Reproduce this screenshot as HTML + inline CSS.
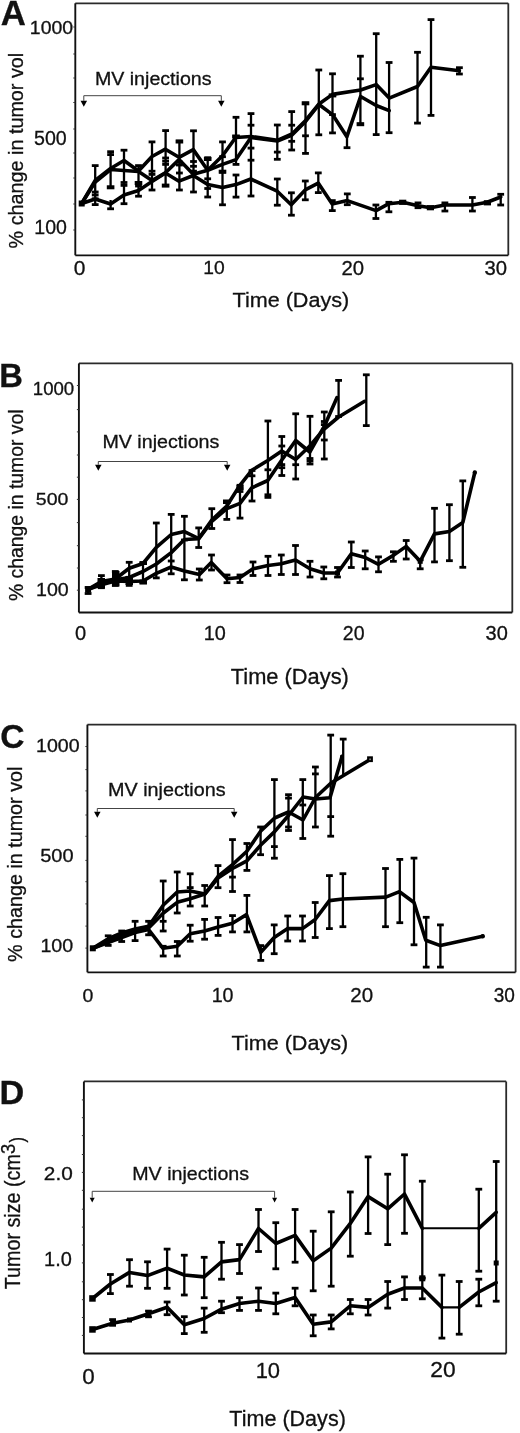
<!DOCTYPE html><html><head><meta charset="utf-8"><style>html,body{margin:0;padding:0;background:#fff;}svg{display:block;will-change:transform;}</style></head><body>
<svg width="520" height="1433" viewBox="0 0 520 1433" font-family='"Liberation Sans", sans-serif'>
<rect width="520" height="1433" fill="#fff"/>
<line x1="75.3" y1="3.3" x2="508.3" y2="3.3" stroke="#2a2a2a" stroke-width="1.8"/>
<line x1="508.3" y1="3.3" x2="508.3" y2="255.3" stroke="#2a2a2a" stroke-width="1.8"/>
<line x1="75.3" y1="3.3" x2="75.3" y2="255.3" stroke="#111" stroke-width="1.9"/>
<line x1="75.3" y1="255.3" x2="508.3" y2="255.3" stroke="#111" stroke-width="1.8"/>
<line x1="73.3" y1="27" x2="75.3" y2="27" stroke="#333" stroke-width="1"/>
<line x1="73.3" y1="54" x2="75.3" y2="54" stroke="#333" stroke-width="1"/>
<line x1="73.3" y1="78" x2="75.3" y2="78" stroke="#333" stroke-width="1"/>
<line x1="73.3" y1="102.5" x2="75.3" y2="102.5" stroke="#333" stroke-width="1"/>
<line x1="73.3" y1="129" x2="75.3" y2="129" stroke="#333" stroke-width="1"/>
<line x1="73.3" y1="153" x2="75.3" y2="153" stroke="#333" stroke-width="1"/>
<line x1="73.3" y1="178" x2="75.3" y2="178" stroke="#333" stroke-width="1"/>
<line x1="73.3" y1="204" x2="75.3" y2="204" stroke="#333" stroke-width="1"/>
<line x1="73.3" y1="230" x2="75.3" y2="230" stroke="#333" stroke-width="1"/>
<text transform="translate(0.63,24.80) scale(1.0004,1)" font-size="34.76" font-weight="bold" fill="#111" stroke="#111" stroke-width="0.3">A</text>
<text transform="translate(29.84,34.00) scale(1.0825,1)" font-size="17.95" font-weight="normal" fill="#111" stroke="#111" stroke-width="0.3">1000</text>
<text transform="translate(34.02,144.50) scale(1.0060,1)" font-size="19.51" font-weight="normal" fill="#111" stroke="#111" stroke-width="0.3">500</text>
<text transform="translate(34.33,234.20) scale(1.0096,1)" font-size="19.36" font-weight="normal" fill="#111" stroke="#111" stroke-width="0.3">100</text>
<text transform="translate(73.66,274.50) scale(1.0737,1)" font-size="19.51" font-weight="normal" fill="#111" stroke="#111" stroke-width="0.3">0</text>
<text transform="translate(203.36,274.40) scale(1.0013,1)" font-size="19.22" font-weight="normal" fill="#111" stroke="#111" stroke-width="0.3">10</text>
<text transform="translate(341.48,274.60) scale(1.0207,1)" font-size="19.93" font-weight="normal" fill="#111" stroke="#111" stroke-width="0.3">20</text>
<text transform="translate(484.54,274.50) scale(1.0327,1)" font-size="19.65" font-weight="normal" fill="#111" stroke="#111" stroke-width="0.3">30</text>
<text transform="translate(232.51,307.00) scale(1.0244,1)" font-size="21.09" font-weight="normal" fill="#111" stroke="#111" stroke-width="0.3">Time (Days)</text>
<text transform="translate(94.88,84.60) scale(1.0467,1)" font-size="18.76" font-weight="normal" fill="#111" stroke="#111" stroke-width="0.3">MV injections</text>
<text transform="translate(23.00,248.39) rotate(-90) scale(0.9895,1)" font-size="20.00" fill="#111" stroke="#111" stroke-width="0.3">% change in tumor vol</text>
<polyline points="83.8,100.8 83.8,95.7 221.3,95.7 221.3,100.8" fill="none" stroke="#444" stroke-width="1"/>
<polygon points="80.55,100.8 87.05,100.8 83.8,106.8" fill="#000"/>
<polygon points="218.05,100.8 224.55,100.8 221.3,106.8" fill="#000"/>
<line x1="95.2" y1="165.6" x2="95.2" y2="204.6" stroke="#000" stroke-width="2.3"/>
<line x1="91.8" y1="165.6" x2="98.6" y2="165.6" stroke="#000" stroke-width="2.8"/>
<line x1="91.8" y1="192.0" x2="98.6" y2="192.0" stroke="#000" stroke-width="2.8"/>
<line x1="91.8" y1="195.0" x2="98.6" y2="195.0" stroke="#000" stroke-width="2.8"/>
<line x1="91.8" y1="198.8" x2="98.6" y2="198.8" stroke="#000" stroke-width="2.8"/>
<line x1="91.8" y1="204.6" x2="98.6" y2="204.6" stroke="#000" stroke-width="2.8"/>
<line x1="110.6" y1="151.7" x2="110.6" y2="187.3" stroke="#000" stroke-width="2.3"/>
<line x1="107.2" y1="151.7" x2="114.0" y2="151.7" stroke="#000" stroke-width="2.8"/>
<line x1="107.2" y1="154.6" x2="114.0" y2="154.6" stroke="#000" stroke-width="2.8"/>
<line x1="107.2" y1="187.3" x2="114.0" y2="187.3" stroke="#000" stroke-width="2.8"/>
<line x1="110.6" y1="200.0" x2="110.6" y2="208.8" stroke="#000" stroke-width="2.3"/>
<line x1="107.2" y1="208.8" x2="114.0" y2="208.8" stroke="#000" stroke-width="2.8"/>
<line x1="124.0" y1="150.2" x2="124.0" y2="203.7" stroke="#000" stroke-width="2.3"/>
<line x1="120.6" y1="150.2" x2="127.4" y2="150.2" stroke="#000" stroke-width="2.8"/>
<line x1="120.6" y1="182.5" x2="127.4" y2="182.5" stroke="#000" stroke-width="2.8"/>
<line x1="120.6" y1="185.4" x2="127.4" y2="185.4" stroke="#000" stroke-width="2.8"/>
<line x1="120.6" y1="203.7" x2="127.4" y2="203.7" stroke="#000" stroke-width="2.8"/>
<line x1="138.5" y1="165.6" x2="138.5" y2="196.2" stroke="#000" stroke-width="2.3"/>
<line x1="135.1" y1="165.6" x2="141.9" y2="165.6" stroke="#000" stroke-width="2.8"/>
<line x1="135.1" y1="183.0" x2="141.9" y2="183.0" stroke="#000" stroke-width="2.8"/>
<line x1="135.1" y1="186.0" x2="141.9" y2="186.0" stroke="#000" stroke-width="2.8"/>
<line x1="135.1" y1="196.2" x2="141.9" y2="196.2" stroke="#000" stroke-width="2.8"/>
<line x1="152.0" y1="141.9" x2="152.0" y2="190.0" stroke="#000" stroke-width="2.3"/>
<line x1="148.6" y1="141.9" x2="155.4" y2="141.9" stroke="#000" stroke-width="2.8"/>
<line x1="148.6" y1="171.2" x2="155.4" y2="171.2" stroke="#000" stroke-width="2.8"/>
<line x1="148.6" y1="174.4" x2="155.4" y2="174.4" stroke="#000" stroke-width="2.8"/>
<line x1="148.6" y1="190.0" x2="155.4" y2="190.0" stroke="#000" stroke-width="2.8"/>
<line x1="165.6" y1="130.6" x2="165.6" y2="185.6" stroke="#000" stroke-width="2.3"/>
<line x1="162.2" y1="130.6" x2="169.0" y2="130.6" stroke="#000" stroke-width="2.8"/>
<line x1="162.2" y1="158.0" x2="169.0" y2="158.0" stroke="#000" stroke-width="2.8"/>
<line x1="162.2" y1="161.2" x2="169.0" y2="161.2" stroke="#000" stroke-width="2.8"/>
<line x1="162.2" y1="164.4" x2="169.0" y2="164.4" stroke="#000" stroke-width="2.8"/>
<line x1="162.2" y1="185.6" x2="169.0" y2="185.6" stroke="#000" stroke-width="2.8"/>
<line x1="179.4" y1="141.2" x2="179.4" y2="190.0" stroke="#000" stroke-width="2.3"/>
<line x1="176.0" y1="141.2" x2="182.8" y2="141.2" stroke="#000" stroke-width="2.8"/>
<line x1="176.0" y1="162.0" x2="182.8" y2="162.0" stroke="#000" stroke-width="2.8"/>
<line x1="176.0" y1="165.0" x2="182.8" y2="165.0" stroke="#000" stroke-width="2.8"/>
<line x1="176.0" y1="173.0" x2="182.8" y2="173.0" stroke="#000" stroke-width="2.8"/>
<line x1="176.0" y1="190.0" x2="182.8" y2="190.0" stroke="#000" stroke-width="2.8"/>
<line x1="193.5" y1="130.8" x2="193.5" y2="192.0" stroke="#000" stroke-width="2.3"/>
<line x1="190.1" y1="130.8" x2="196.9" y2="130.8" stroke="#000" stroke-width="2.8"/>
<line x1="190.1" y1="161.5" x2="196.9" y2="161.5" stroke="#000" stroke-width="2.8"/>
<line x1="190.1" y1="166.3" x2="196.9" y2="166.3" stroke="#000" stroke-width="2.8"/>
<line x1="190.1" y1="171.2" x2="196.9" y2="171.2" stroke="#000" stroke-width="2.8"/>
<line x1="190.1" y1="192.0" x2="196.9" y2="192.0" stroke="#000" stroke-width="2.8"/>
<line x1="207.7" y1="157.7" x2="207.7" y2="197.0" stroke="#000" stroke-width="2.3"/>
<line x1="204.3" y1="157.7" x2="211.1" y2="157.7" stroke="#000" stroke-width="2.8"/>
<line x1="204.3" y1="178.8" x2="211.1" y2="178.8" stroke="#000" stroke-width="2.8"/>
<line x1="204.3" y1="188.5" x2="211.1" y2="188.5" stroke="#000" stroke-width="2.8"/>
<line x1="204.3" y1="197.0" x2="211.1" y2="197.0" stroke="#000" stroke-width="2.8"/>
<line x1="222.5" y1="141.9" x2="222.5" y2="204.8" stroke="#000" stroke-width="2.3"/>
<line x1="219.1" y1="141.9" x2="225.9" y2="141.9" stroke="#000" stroke-width="2.8"/>
<line x1="219.1" y1="156.7" x2="225.9" y2="156.7" stroke="#000" stroke-width="2.8"/>
<line x1="219.1" y1="172.1" x2="225.9" y2="172.1" stroke="#000" stroke-width="2.8"/>
<line x1="219.1" y1="204.8" x2="225.9" y2="204.8" stroke="#000" stroke-width="2.8"/>
<line x1="236.0" y1="117.3" x2="236.0" y2="164.4" stroke="#000" stroke-width="2.3"/>
<line x1="232.6" y1="117.3" x2="239.4" y2="117.3" stroke="#000" stroke-width="2.8"/>
<line x1="232.6" y1="136.5" x2="239.4" y2="136.5" stroke="#000" stroke-width="2.8"/>
<line x1="232.6" y1="164.4" x2="239.4" y2="164.4" stroke="#000" stroke-width="2.8"/>
<line x1="236.0" y1="175.0" x2="236.0" y2="197.1" stroke="#000" stroke-width="2.3"/>
<line x1="232.6" y1="175.0" x2="239.4" y2="175.0" stroke="#000" stroke-width="2.8"/>
<line x1="232.6" y1="197.1" x2="239.4" y2="197.1" stroke="#000" stroke-width="2.8"/>
<line x1="251.0" y1="113.6" x2="251.0" y2="196.0" stroke="#000" stroke-width="2.3"/>
<line x1="247.6" y1="113.6" x2="254.4" y2="113.6" stroke="#000" stroke-width="2.8"/>
<line x1="247.6" y1="125.2" x2="254.4" y2="125.2" stroke="#000" stroke-width="2.8"/>
<line x1="247.6" y1="148.1" x2="254.4" y2="148.1" stroke="#000" stroke-width="2.8"/>
<line x1="247.6" y1="160.2" x2="254.4" y2="160.2" stroke="#000" stroke-width="2.8"/>
<line x1="247.6" y1="196.0" x2="254.4" y2="196.0" stroke="#000" stroke-width="2.8"/>
<line x1="277.3" y1="125.0" x2="277.3" y2="159.3" stroke="#000" stroke-width="2.3"/>
<line x1="273.9" y1="125.0" x2="280.7" y2="125.0" stroke="#000" stroke-width="2.8"/>
<line x1="273.9" y1="152.1" x2="280.7" y2="152.1" stroke="#000" stroke-width="2.8"/>
<line x1="273.9" y1="159.3" x2="280.7" y2="159.3" stroke="#000" stroke-width="2.8"/>
<line x1="277.3" y1="179.0" x2="277.3" y2="205.2" stroke="#000" stroke-width="2.3"/>
<line x1="273.9" y1="179.0" x2="280.7" y2="179.0" stroke="#000" stroke-width="2.8"/>
<line x1="273.9" y1="205.2" x2="280.7" y2="205.2" stroke="#000" stroke-width="2.8"/>
<line x1="291.7" y1="111.6" x2="291.7" y2="150.0" stroke="#000" stroke-width="2.3"/>
<line x1="288.3" y1="111.6" x2="295.1" y2="111.6" stroke="#000" stroke-width="2.8"/>
<line x1="288.3" y1="125.2" x2="295.1" y2="125.2" stroke="#000" stroke-width="2.8"/>
<line x1="288.3" y1="141.3" x2="295.1" y2="141.3" stroke="#000" stroke-width="2.8"/>
<line x1="288.3" y1="150.0" x2="295.1" y2="150.0" stroke="#000" stroke-width="2.8"/>
<line x1="291.4" y1="192.8" x2="291.4" y2="215.2" stroke="#000" stroke-width="2.3"/>
<line x1="288.0" y1="192.8" x2="294.8" y2="192.8" stroke="#000" stroke-width="2.8"/>
<line x1="288.0" y1="215.2" x2="294.8" y2="215.2" stroke="#000" stroke-width="2.8"/>
<line x1="305.5" y1="103.1" x2="305.5" y2="153.4" stroke="#000" stroke-width="2.3"/>
<line x1="302.1" y1="103.1" x2="308.9" y2="103.1" stroke="#000" stroke-width="2.8"/>
<line x1="302.1" y1="135.8" x2="308.9" y2="135.8" stroke="#000" stroke-width="2.8"/>
<line x1="302.1" y1="153.4" x2="308.9" y2="153.4" stroke="#000" stroke-width="2.8"/>
<line x1="305.3" y1="181.0" x2="305.3" y2="199.8" stroke="#000" stroke-width="2.3"/>
<line x1="301.9" y1="181.0" x2="308.7" y2="181.0" stroke="#000" stroke-width="2.8"/>
<line x1="301.9" y1="199.8" x2="308.7" y2="199.8" stroke="#000" stroke-width="2.8"/>
<line x1="318.8" y1="70.0" x2="318.8" y2="134.8" stroke="#000" stroke-width="2.3"/>
<line x1="315.4" y1="70.0" x2="322.2" y2="70.0" stroke="#000" stroke-width="2.8"/>
<line x1="315.4" y1="134.8" x2="322.2" y2="134.8" stroke="#000" stroke-width="2.8"/>
<line x1="318.3" y1="172.9" x2="318.3" y2="192.6" stroke="#000" stroke-width="2.3"/>
<line x1="314.9" y1="172.9" x2="321.7" y2="172.9" stroke="#000" stroke-width="2.8"/>
<line x1="314.9" y1="192.6" x2="321.7" y2="192.6" stroke="#000" stroke-width="2.8"/>
<line x1="332.5" y1="73.8" x2="332.5" y2="132.9" stroke="#000" stroke-width="2.3"/>
<line x1="329.1" y1="73.8" x2="335.9" y2="73.8" stroke="#000" stroke-width="2.8"/>
<line x1="329.1" y1="95.4" x2="335.9" y2="95.4" stroke="#000" stroke-width="2.8"/>
<line x1="329.1" y1="114.6" x2="335.9" y2="114.6" stroke="#000" stroke-width="2.8"/>
<line x1="329.1" y1="132.9" x2="335.9" y2="132.9" stroke="#000" stroke-width="2.8"/>
<line x1="332.3" y1="200.6" x2="332.3" y2="210.6" stroke="#000" stroke-width="2.3"/>
<line x1="328.9" y1="200.6" x2="335.7" y2="200.6" stroke="#000" stroke-width="2.8"/>
<line x1="328.9" y1="210.6" x2="335.7" y2="210.6" stroke="#000" stroke-width="2.8"/>
<line x1="347.0" y1="136.7" x2="347.0" y2="147.7" stroke="#000" stroke-width="2.3"/>
<line x1="343.6" y1="147.7" x2="350.4" y2="147.7" stroke="#000" stroke-width="2.8"/>
<line x1="347.3" y1="193.9" x2="347.3" y2="204.7" stroke="#000" stroke-width="2.3"/>
<line x1="343.9" y1="193.9" x2="350.7" y2="193.9" stroke="#000" stroke-width="2.8"/>
<line x1="343.9" y1="204.7" x2="350.7" y2="204.7" stroke="#000" stroke-width="2.8"/>
<line x1="360.4" y1="56.2" x2="360.4" y2="124.2" stroke="#000" stroke-width="2.3"/>
<line x1="357.0" y1="56.2" x2="363.8" y2="56.2" stroke="#000" stroke-width="2.8"/>
<line x1="357.0" y1="78.8" x2="363.8" y2="78.8" stroke="#000" stroke-width="2.8"/>
<line x1="357.0" y1="124.2" x2="363.8" y2="124.2" stroke="#000" stroke-width="2.8"/>
<line x1="376.2" y1="33.7" x2="376.2" y2="134.6" stroke="#000" stroke-width="2.3"/>
<line x1="372.8" y1="33.7" x2="379.6" y2="33.7" stroke="#000" stroke-width="2.8"/>
<line x1="372.8" y1="134.6" x2="379.6" y2="134.6" stroke="#000" stroke-width="2.8"/>
<line x1="389.1" y1="62.5" x2="389.1" y2="132.7" stroke="#000" stroke-width="2.3"/>
<line x1="385.7" y1="62.5" x2="392.5" y2="62.5" stroke="#000" stroke-width="2.8"/>
<line x1="385.7" y1="132.7" x2="392.5" y2="132.7" stroke="#000" stroke-width="2.8"/>
<line x1="417.5" y1="52.3" x2="417.5" y2="123.1" stroke="#000" stroke-width="2.3"/>
<line x1="414.1" y1="52.3" x2="420.9" y2="52.3" stroke="#000" stroke-width="2.8"/>
<line x1="414.1" y1="123.1" x2="420.9" y2="123.1" stroke="#000" stroke-width="2.8"/>
<line x1="431.0" y1="19.6" x2="431.0" y2="115.4" stroke="#000" stroke-width="2.3"/>
<line x1="427.6" y1="19.6" x2="434.4" y2="19.6" stroke="#000" stroke-width="2.8"/>
<line x1="427.6" y1="115.4" x2="434.4" y2="115.4" stroke="#000" stroke-width="2.8"/>
<line x1="459.4" y1="67.7" x2="459.4" y2="74.0" stroke="#000" stroke-width="2.3"/>
<line x1="456.0" y1="67.7" x2="462.8" y2="67.7" stroke="#000" stroke-width="2.8"/>
<line x1="456.0" y1="74.0" x2="462.8" y2="74.0" stroke="#000" stroke-width="2.8"/>
<line x1="375.9" y1="205.0" x2="375.9" y2="218.5" stroke="#000" stroke-width="2.3"/>
<line x1="372.5" y1="205.0" x2="379.3" y2="205.0" stroke="#000" stroke-width="2.8"/>
<line x1="372.5" y1="218.5" x2="379.3" y2="218.5" stroke="#000" stroke-width="2.8"/>
<line x1="388.9" y1="202.3" x2="388.9" y2="211.8" stroke="#000" stroke-width="2.3"/>
<line x1="385.5" y1="202.3" x2="392.3" y2="202.3" stroke="#000" stroke-width="2.8"/>
<line x1="385.5" y1="211.8" x2="392.3" y2="211.8" stroke="#000" stroke-width="2.8"/>
<line x1="418.0" y1="202.9" x2="418.0" y2="207.7" stroke="#000" stroke-width="2.3"/>
<line x1="414.6" y1="202.9" x2="421.4" y2="202.9" stroke="#000" stroke-width="2.8"/>
<line x1="414.6" y1="207.7" x2="421.4" y2="207.7" stroke="#000" stroke-width="2.8"/>
<line x1="444.9" y1="202.9" x2="444.9" y2="211.0" stroke="#000" stroke-width="2.3"/>
<line x1="441.5" y1="202.9" x2="448.3" y2="202.9" stroke="#000" stroke-width="2.8"/>
<line x1="441.5" y1="211.0" x2="448.3" y2="211.0" stroke="#000" stroke-width="2.8"/>
<line x1="472.4" y1="197.5" x2="472.4" y2="211.0" stroke="#000" stroke-width="2.3"/>
<line x1="469.0" y1="197.5" x2="475.8" y2="197.5" stroke="#000" stroke-width="2.8"/>
<line x1="469.0" y1="211.0" x2="475.8" y2="211.0" stroke="#000" stroke-width="2.8"/>
<line x1="500.7" y1="194.3" x2="500.7" y2="205.0" stroke="#000" stroke-width="2.3"/>
<line x1="497.3" y1="194.3" x2="504.1" y2="194.3" stroke="#000" stroke-width="2.8"/>
<line x1="497.3" y1="205.0" x2="504.1" y2="205.0" stroke="#000" stroke-width="2.8"/>
<polyline points="81.7,203.5 95.2,180.5 110.6,168.5 124.0,160.5 138.5,171.0 152.0,156.5 165.4,149.2 179.0,157.3 193.3,149.6 207.7,170.2 222.5,155.8 235.7,137.5 251.0,136.5 277.3,140.3 292.0,134.0 305.6,120.4 319.0,104.0 332.5,94.4 360.6,90.0 376.2,84.6 389.2,98.1 417.5,86.5 431.0,67.3 459.4,70.8" fill="none" stroke="#000" stroke-width="3.6" stroke-linejoin="round" stroke-linecap="round"/>
<polyline points="81.7,203.5 95.2,182.0 110.6,169.5 124.0,170.5 138.5,171.5 152.0,180.6 165.4,172.7 179.0,159.6 193.3,174.2 207.7,170.2 222.5,164.4 236.0,159.6 251.0,137.5 277.3,141.0 292.0,135.0 305.6,121.5 319.0,104.5 332.5,114.6 346.9,136.7 360.6,96.5 376.2,105.5 389.2,110.6" fill="none" stroke="#000" stroke-width="3.6" stroke-linejoin="round" stroke-linecap="round"/>
<polyline points="81.7,203.5 95.2,199.0 110.6,204.0 124.0,195.0 138.5,190.5 152.0,181.5 165.4,173.0 179.0,181.2 193.3,175.5 207.7,184.6 222.5,187.5 236.0,184.6 250.8,179.0 277.2,191.2 291.2,204.7 305.2,189.9 318.2,183.1 332.2,203.9 347.3,200.6 376.1,210.6 388.9,203.7 402.9,202.3 418.0,205.8 430.6,207.7 444.9,205.0 472.4,205.0 487.2,202.3 500.7,197.0" fill="none" stroke="#000" stroke-width="3.6" stroke-linejoin="round" stroke-linecap="round"/>
<rect x="78.7" y="200.5" width="6" height="6" fill="#000"/>
<rect x="399.1" y="199.7" width="7.2" height="5.2" fill="#000"/>
<rect x="426.8" y="205.1" width="7.2" height="5.2" fill="#000"/>
<rect x="483.8" y="200.2" width="7.2" height="5.2" fill="#000"/>
<rect x="106.8" y="185.3" width="7.6" height="4" fill="#000"/>
<rect x="134.7" y="181.0" width="7.6" height="4" fill="#000"/>
<rect x="161.8" y="183.6" width="7.6" height="4" fill="#000"/>
<rect x="175.6" y="139.5" width="7.6" height="4" fill="#000"/>
<rect x="203.9" y="157.0" width="7.6" height="4" fill="#000"/>
<rect x="218.7" y="169.7" width="7.6" height="4" fill="#000"/>
<rect x="232.2" y="134.5" width="7.6" height="4" fill="#000"/>
<rect x="301.7" y="101.3" width="7.6" height="4" fill="#000"/>
<rect x="328.7" y="93.4" width="7.6" height="4" fill="#000"/>
<rect x="356.6" y="122.2" width="7.6" height="4" fill="#000"/>
<line x1="78.9" y1="363.4" x2="512.3" y2="363.4" stroke="#2a2a2a" stroke-width="1.8"/>
<line x1="512.3" y1="363.4" x2="512.3" y2="612.5" stroke="#2a2a2a" stroke-width="1.8"/>
<line x1="78.9" y1="363.4" x2="78.9" y2="612.5" stroke="#111" stroke-width="1.9"/>
<line x1="78.9" y1="612.5" x2="512.3" y2="612.5" stroke="#111" stroke-width="1.8"/>
<line x1="76.9" y1="385.5" x2="78.9" y2="385.5" stroke="#333" stroke-width="1"/>
<line x1="76.9" y1="409.6" x2="78.9" y2="409.6" stroke="#333" stroke-width="1"/>
<line x1="76.9" y1="431.9" x2="78.9" y2="431.9" stroke="#333" stroke-width="1"/>
<line x1="76.9" y1="455" x2="78.9" y2="455" stroke="#333" stroke-width="1"/>
<line x1="76.9" y1="477.2" x2="78.9" y2="477.2" stroke="#333" stroke-width="1"/>
<line x1="76.9" y1="499.4" x2="78.9" y2="499.4" stroke="#333" stroke-width="1"/>
<line x1="76.9" y1="522.6" x2="78.9" y2="522.6" stroke="#333" stroke-width="1"/>
<line x1="76.9" y1="545.7" x2="78.9" y2="545.7" stroke="#333" stroke-width="1"/>
<line x1="76.9" y1="568" x2="78.9" y2="568" stroke="#333" stroke-width="1"/>
<line x1="76.9" y1="590.2" x2="78.9" y2="590.2" stroke="#333" stroke-width="1"/>
<text transform="translate(-0.71,386.90) scale(0.9974,1)" font-size="32.87" font-weight="bold" fill="#111" stroke="#111" stroke-width="0.3">B</text>
<text transform="translate(32.80,395.40) scale(1.0627,1)" font-size="17.53" font-weight="normal" fill="#111" stroke="#111" stroke-width="0.3">1000</text>
<text transform="translate(35.82,505.10) scale(1.1251,1)" font-size="17.39" font-weight="normal" fill="#111" stroke="#111" stroke-width="0.3">500</text>
<text transform="translate(36.03,596.20) scale(1.0927,1)" font-size="17.95" font-weight="normal" fill="#111" stroke="#111" stroke-width="0.3">100</text>
<text transform="translate(75.00,640.40) scale(1.0017,1)" font-size="20.07" font-weight="normal" fill="#111" stroke="#111" stroke-width="0.3">0</text>
<text transform="translate(203.71,640.40) scale(0.9890,1)" font-size="20.07" font-weight="normal" fill="#111" stroke="#111" stroke-width="0.3">10</text>
<text transform="translate(342.82,640.40) scale(0.9746,1)" font-size="20.07" font-weight="normal" fill="#111" stroke="#111" stroke-width="0.3">20</text>
<text transform="translate(485.55,640.40) scale(0.9965,1)" font-size="20.07" font-weight="normal" fill="#111" stroke="#111" stroke-width="0.3">30</text>
<text transform="translate(230.76,683.75) scale(1.0011,1)" font-size="21.82" font-weight="normal" fill="#111" stroke="#111" stroke-width="0.3">Time (Days)</text>
<text transform="translate(102.38,448.30) scale(1.0494,1)" font-size="18.76" font-weight="normal" fill="#111" stroke="#111" stroke-width="0.3">MV injections</text>
<text transform="translate(23.00,600.98) rotate(-90) scale(0.9885,1)" font-size="19.59" fill="#111" stroke="#111" stroke-width="0.3">% change in tumor vol</text>
<polyline points="98.3,464.7 98.3,461.5 227.2,461.5 227.2,464.7" fill="none" stroke="#444" stroke-width="1"/>
<polygon points="95.05,464.7 101.55,464.7 98.3,470.7" fill="#000"/>
<polygon points="223.95,464.7 230.45,464.7 227.2,470.7" fill="#000"/>
<line x1="88.1" y1="587.5" x2="88.1" y2="593.5" stroke="#000" stroke-width="2.3"/>
<line x1="84.7" y1="587.5" x2="91.5" y2="587.5" stroke="#000" stroke-width="2.8"/>
<line x1="84.7" y1="593.5" x2="91.5" y2="593.5" stroke="#000" stroke-width="2.8"/>
<line x1="101.4" y1="575.6" x2="101.4" y2="587.7" stroke="#000" stroke-width="2.3"/>
<line x1="98.0" y1="575.6" x2="104.8" y2="575.6" stroke="#000" stroke-width="2.8"/>
<line x1="98.0" y1="587.7" x2="104.8" y2="587.7" stroke="#000" stroke-width="2.8"/>
<line x1="115.3" y1="571.5" x2="115.3" y2="585.4" stroke="#000" stroke-width="2.3"/>
<line x1="111.9" y1="571.5" x2="118.7" y2="571.5" stroke="#000" stroke-width="2.8"/>
<line x1="111.9" y1="585.4" x2="118.7" y2="585.4" stroke="#000" stroke-width="2.8"/>
<line x1="129.2" y1="562.3" x2="129.2" y2="585.4" stroke="#000" stroke-width="2.3"/>
<line x1="125.8" y1="562.3" x2="132.6" y2="562.3" stroke="#000" stroke-width="2.8"/>
<line x1="125.8" y1="577.3" x2="132.6" y2="577.3" stroke="#000" stroke-width="2.8"/>
<line x1="125.8" y1="585.4" x2="132.6" y2="585.4" stroke="#000" stroke-width="2.8"/>
<line x1="143.0" y1="562.5" x2="143.0" y2="582.7" stroke="#000" stroke-width="2.3"/>
<line x1="139.6" y1="562.5" x2="146.4" y2="562.5" stroke="#000" stroke-width="2.8"/>
<line x1="139.6" y1="582.7" x2="146.4" y2="582.7" stroke="#000" stroke-width="2.8"/>
<line x1="156.3" y1="523.0" x2="156.3" y2="577.9" stroke="#000" stroke-width="2.3"/>
<line x1="152.9" y1="523.0" x2="159.7" y2="523.0" stroke="#000" stroke-width="2.8"/>
<line x1="152.9" y1="577.9" x2="159.7" y2="577.9" stroke="#000" stroke-width="2.8"/>
<line x1="171.2" y1="514.4" x2="171.2" y2="573.8" stroke="#000" stroke-width="2.3"/>
<line x1="167.8" y1="514.4" x2="174.6" y2="514.4" stroke="#000" stroke-width="2.8"/>
<line x1="167.8" y1="561.0" x2="174.6" y2="561.0" stroke="#000" stroke-width="2.8"/>
<line x1="167.8" y1="573.8" x2="174.6" y2="573.8" stroke="#000" stroke-width="2.8"/>
<line x1="184.4" y1="516.3" x2="184.4" y2="579.8" stroke="#000" stroke-width="2.3"/>
<line x1="181.0" y1="516.3" x2="187.8" y2="516.3" stroke="#000" stroke-width="2.8"/>
<line x1="181.0" y1="540.0" x2="187.8" y2="540.0" stroke="#000" stroke-width="2.8"/>
<line x1="181.0" y1="579.8" x2="187.8" y2="579.8" stroke="#000" stroke-width="2.8"/>
<line x1="198.7" y1="527.9" x2="198.7" y2="547.5" stroke="#000" stroke-width="2.3"/>
<line x1="195.3" y1="527.9" x2="202.1" y2="527.9" stroke="#000" stroke-width="2.8"/>
<line x1="195.3" y1="547.5" x2="202.1" y2="547.5" stroke="#000" stroke-width="2.8"/>
<line x1="199.3" y1="569.0" x2="199.3" y2="580.0" stroke="#000" stroke-width="2.3"/>
<line x1="195.9" y1="569.0" x2="202.7" y2="569.0" stroke="#000" stroke-width="2.8"/>
<line x1="195.9" y1="580.0" x2="202.7" y2="580.0" stroke="#000" stroke-width="2.8"/>
<line x1="211.8" y1="508.7" x2="211.8" y2="528.5" stroke="#000" stroke-width="2.3"/>
<line x1="208.4" y1="508.7" x2="215.2" y2="508.7" stroke="#000" stroke-width="2.8"/>
<line x1="208.4" y1="528.5" x2="215.2" y2="528.5" stroke="#000" stroke-width="2.8"/>
<line x1="211.5" y1="555.0" x2="211.5" y2="570.0" stroke="#000" stroke-width="2.3"/>
<line x1="208.1" y1="555.0" x2="214.9" y2="555.0" stroke="#000" stroke-width="2.8"/>
<line x1="208.1" y1="570.0" x2="214.9" y2="570.0" stroke="#000" stroke-width="2.8"/>
<line x1="226.8" y1="501.5" x2="226.8" y2="519.4" stroke="#000" stroke-width="2.3"/>
<line x1="223.4" y1="501.5" x2="230.2" y2="501.5" stroke="#000" stroke-width="2.8"/>
<line x1="223.4" y1="519.4" x2="230.2" y2="519.4" stroke="#000" stroke-width="2.8"/>
<line x1="227.0" y1="575.0" x2="227.0" y2="582.7" stroke="#000" stroke-width="2.3"/>
<line x1="223.6" y1="575.0" x2="230.4" y2="575.0" stroke="#000" stroke-width="2.8"/>
<line x1="223.6" y1="582.7" x2="230.4" y2="582.7" stroke="#000" stroke-width="2.8"/>
<line x1="240.0" y1="485.3" x2="240.0" y2="518.1" stroke="#000" stroke-width="2.3"/>
<line x1="236.6" y1="485.3" x2="243.4" y2="485.3" stroke="#000" stroke-width="2.8"/>
<line x1="236.6" y1="488.5" x2="243.4" y2="488.5" stroke="#000" stroke-width="2.8"/>
<line x1="236.6" y1="491.5" x2="243.4" y2="491.5" stroke="#000" stroke-width="2.8"/>
<line x1="236.6" y1="518.1" x2="243.4" y2="518.1" stroke="#000" stroke-width="2.8"/>
<line x1="240.0" y1="575.0" x2="240.0" y2="582.5" stroke="#000" stroke-width="2.3"/>
<line x1="236.6" y1="575.0" x2="243.4" y2="575.0" stroke="#000" stroke-width="2.8"/>
<line x1="236.6" y1="582.5" x2="243.4" y2="582.5" stroke="#000" stroke-width="2.8"/>
<line x1="252.0" y1="470.5" x2="252.0" y2="501.0" stroke="#000" stroke-width="2.3"/>
<line x1="248.6" y1="470.5" x2="255.4" y2="470.5" stroke="#000" stroke-width="2.8"/>
<line x1="248.6" y1="475.8" x2="255.4" y2="475.8" stroke="#000" stroke-width="2.8"/>
<line x1="248.6" y1="501.0" x2="255.4" y2="501.0" stroke="#000" stroke-width="2.8"/>
<line x1="253.0" y1="562.0" x2="253.0" y2="575.5" stroke="#000" stroke-width="2.3"/>
<line x1="249.6" y1="562.0" x2="256.4" y2="562.0" stroke="#000" stroke-width="2.8"/>
<line x1="249.6" y1="575.5" x2="256.4" y2="575.5" stroke="#000" stroke-width="2.8"/>
<line x1="267.9" y1="421.0" x2="267.9" y2="497.0" stroke="#000" stroke-width="2.3"/>
<line x1="264.5" y1="421.0" x2="271.3" y2="421.0" stroke="#000" stroke-width="2.8"/>
<line x1="264.5" y1="469.8" x2="271.3" y2="469.8" stroke="#000" stroke-width="2.8"/>
<line x1="264.5" y1="494.8" x2="271.3" y2="494.8" stroke="#000" stroke-width="2.8"/>
<line x1="264.5" y1="497.4" x2="271.3" y2="497.4" stroke="#000" stroke-width="2.8"/>
<line x1="268.0" y1="556.3" x2="268.0" y2="575.5" stroke="#000" stroke-width="2.3"/>
<line x1="264.6" y1="556.3" x2="271.4" y2="556.3" stroke="#000" stroke-width="2.8"/>
<line x1="264.6" y1="575.5" x2="271.4" y2="575.5" stroke="#000" stroke-width="2.8"/>
<line x1="281.8" y1="436.5" x2="281.8" y2="475.5" stroke="#000" stroke-width="2.3"/>
<line x1="278.4" y1="436.5" x2="285.2" y2="436.5" stroke="#000" stroke-width="2.8"/>
<line x1="278.4" y1="446.0" x2="285.2" y2="446.0" stroke="#000" stroke-width="2.8"/>
<line x1="278.4" y1="464.6" x2="285.2" y2="464.6" stroke="#000" stroke-width="2.8"/>
<line x1="278.4" y1="467.7" x2="285.2" y2="467.7" stroke="#000" stroke-width="2.8"/>
<line x1="278.4" y1="475.5" x2="285.2" y2="475.5" stroke="#000" stroke-width="2.8"/>
<line x1="281.3" y1="555.0" x2="281.3" y2="574.5" stroke="#000" stroke-width="2.3"/>
<line x1="277.9" y1="555.0" x2="284.7" y2="555.0" stroke="#000" stroke-width="2.8"/>
<line x1="277.9" y1="574.5" x2="284.7" y2="574.5" stroke="#000" stroke-width="2.8"/>
<line x1="295.7" y1="413.8" x2="295.7" y2="479.0" stroke="#000" stroke-width="2.3"/>
<line x1="292.3" y1="413.8" x2="299.1" y2="413.8" stroke="#000" stroke-width="2.8"/>
<line x1="292.3" y1="464.7" x2="299.1" y2="464.7" stroke="#000" stroke-width="2.8"/>
<line x1="292.3" y1="479.0" x2="299.1" y2="479.0" stroke="#000" stroke-width="2.8"/>
<line x1="295.5" y1="545.5" x2="295.5" y2="574.5" stroke="#000" stroke-width="2.3"/>
<line x1="292.1" y1="545.5" x2="298.9" y2="545.5" stroke="#000" stroke-width="2.8"/>
<line x1="292.1" y1="574.5" x2="298.9" y2="574.5" stroke="#000" stroke-width="2.8"/>
<line x1="310.0" y1="416.3" x2="310.0" y2="464.0" stroke="#000" stroke-width="2.3"/>
<line x1="306.6" y1="416.3" x2="313.4" y2="416.3" stroke="#000" stroke-width="2.8"/>
<line x1="306.6" y1="458.5" x2="313.4" y2="458.5" stroke="#000" stroke-width="2.8"/>
<line x1="306.6" y1="461.0" x2="313.4" y2="461.0" stroke="#000" stroke-width="2.8"/>
<line x1="306.6" y1="464.0" x2="313.4" y2="464.0" stroke="#000" stroke-width="2.8"/>
<line x1="310.0" y1="561.3" x2="310.0" y2="577.0" stroke="#000" stroke-width="2.3"/>
<line x1="306.6" y1="561.3" x2="313.4" y2="561.3" stroke="#000" stroke-width="2.8"/>
<line x1="306.6" y1="577.0" x2="313.4" y2="577.0" stroke="#000" stroke-width="2.8"/>
<line x1="324.3" y1="412.0" x2="324.3" y2="459.0" stroke="#000" stroke-width="2.3"/>
<line x1="320.9" y1="412.0" x2="327.7" y2="412.0" stroke="#000" stroke-width="2.8"/>
<line x1="320.9" y1="421.5" x2="327.7" y2="421.5" stroke="#000" stroke-width="2.8"/>
<line x1="320.9" y1="424.6" x2="327.7" y2="424.6" stroke="#000" stroke-width="2.8"/>
<line x1="320.9" y1="440.0" x2="327.7" y2="440.0" stroke="#000" stroke-width="2.8"/>
<line x1="320.9" y1="459.0" x2="327.7" y2="459.0" stroke="#000" stroke-width="2.8"/>
<line x1="323.8" y1="567.0" x2="323.8" y2="578.8" stroke="#000" stroke-width="2.3"/>
<line x1="320.4" y1="567.0" x2="327.2" y2="567.0" stroke="#000" stroke-width="2.8"/>
<line x1="320.4" y1="578.8" x2="327.2" y2="578.8" stroke="#000" stroke-width="2.8"/>
<line x1="338.6" y1="380.4" x2="338.6" y2="416.5" stroke="#000" stroke-width="2.3"/>
<line x1="335.2" y1="380.4" x2="342.0" y2="380.4" stroke="#000" stroke-width="2.8"/>
<line x1="335.2" y1="416.5" x2="342.0" y2="416.5" stroke="#000" stroke-width="2.8"/>
<line x1="337.5" y1="567.5" x2="337.5" y2="577.0" stroke="#000" stroke-width="2.3"/>
<line x1="334.1" y1="567.5" x2="340.9" y2="567.5" stroke="#000" stroke-width="2.8"/>
<line x1="334.1" y1="577.0" x2="340.9" y2="577.0" stroke="#000" stroke-width="2.8"/>
<line x1="351.3" y1="542.0" x2="351.3" y2="567.5" stroke="#000" stroke-width="2.3"/>
<line x1="347.9" y1="542.0" x2="354.7" y2="542.0" stroke="#000" stroke-width="2.8"/>
<line x1="347.9" y1="567.5" x2="354.7" y2="567.5" stroke="#000" stroke-width="2.8"/>
<line x1="365.2" y1="551.0" x2="365.2" y2="568.8" stroke="#000" stroke-width="2.3"/>
<line x1="361.8" y1="551.0" x2="368.6" y2="551.0" stroke="#000" stroke-width="2.8"/>
<line x1="361.8" y1="568.8" x2="368.6" y2="568.8" stroke="#000" stroke-width="2.8"/>
<line x1="366.3" y1="374.8" x2="366.3" y2="425.6" stroke="#000" stroke-width="2.3"/>
<line x1="362.9" y1="374.8" x2="369.7" y2="374.8" stroke="#000" stroke-width="2.8"/>
<line x1="362.9" y1="425.6" x2="369.7" y2="425.6" stroke="#000" stroke-width="2.8"/>
<line x1="378.5" y1="556.9" x2="378.5" y2="571.8" stroke="#000" stroke-width="2.3"/>
<line x1="375.1" y1="556.9" x2="381.9" y2="556.9" stroke="#000" stroke-width="2.8"/>
<line x1="375.1" y1="571.8" x2="381.9" y2="571.8" stroke="#000" stroke-width="2.8"/>
<line x1="393.4" y1="551.8" x2="393.4" y2="561.3" stroke="#000" stroke-width="2.3"/>
<line x1="390.0" y1="551.8" x2="396.8" y2="551.8" stroke="#000" stroke-width="2.8"/>
<line x1="390.0" y1="561.3" x2="396.8" y2="561.3" stroke="#000" stroke-width="2.8"/>
<line x1="406.2" y1="540.5" x2="406.2" y2="559.0" stroke="#000" stroke-width="2.3"/>
<line x1="402.8" y1="540.5" x2="409.6" y2="540.5" stroke="#000" stroke-width="2.8"/>
<line x1="402.8" y1="559.0" x2="409.6" y2="559.0" stroke="#000" stroke-width="2.8"/>
<line x1="420.2" y1="559.8" x2="420.2" y2="568.8" stroke="#000" stroke-width="2.3"/>
<line x1="416.8" y1="559.8" x2="423.6" y2="559.8" stroke="#000" stroke-width="2.8"/>
<line x1="416.8" y1="568.8" x2="423.6" y2="568.8" stroke="#000" stroke-width="2.8"/>
<line x1="434.5" y1="508.3" x2="434.5" y2="561.9" stroke="#000" stroke-width="2.3"/>
<line x1="431.1" y1="508.3" x2="437.9" y2="508.3" stroke="#000" stroke-width="2.8"/>
<line x1="431.1" y1="561.9" x2="437.9" y2="561.9" stroke="#000" stroke-width="2.8"/>
<line x1="449.4" y1="504.7" x2="449.4" y2="560.7" stroke="#000" stroke-width="2.3"/>
<line x1="446.0" y1="504.7" x2="452.8" y2="504.7" stroke="#000" stroke-width="2.8"/>
<line x1="446.0" y1="560.7" x2="452.8" y2="560.7" stroke="#000" stroke-width="2.8"/>
<line x1="462.8" y1="480.9" x2="462.8" y2="567.3" stroke="#000" stroke-width="2.3"/>
<line x1="459.4" y1="480.9" x2="466.2" y2="480.9" stroke="#000" stroke-width="2.8"/>
<line x1="459.4" y1="567.3" x2="466.2" y2="567.3" stroke="#000" stroke-width="2.8"/>
<polyline points="88.1,589.3 101.4,581.5 115.3,579.0 129.2,568.3 143.0,563.5 156.3,547.3 171.2,534.5 184.4,531.6 198.7,538.5 211.8,520.0 226.8,506.0 239.3,486.1 251.7,470.4 267.8,460.5 281.8,451.0 295.7,459.5 309.8,446.0 324.2,429.0 338.6,417.0 364.6,401.3" fill="none" stroke="#000" stroke-width="3.6" stroke-linejoin="round" stroke-linecap="round"/>
<polyline points="88.1,589.3 101.4,583.5 115.3,579.8 129.2,577.5 143.0,571.5 156.3,564.0 171.2,552.6 184.4,539.5 198.7,538.8 211.8,521.5 226.8,508.6 240.0,503.4 251.7,487.9 267.8,480.5 281.8,460.0 295.7,440.5 309.8,452.0 324.2,426.5 336.9,397.7" fill="none" stroke="#000" stroke-width="3.6" stroke-linejoin="round" stroke-linecap="round"/>
<polyline points="88.1,589.3 101.4,584.7 115.3,581.0 129.2,581.5 143.0,581.0 156.3,573.3 171.2,567.0 184.4,571.0 199.5,574.5 211.3,562.5 227.0,578.8 240.0,577.5 253.0,568.8 268.0,565.5 281.3,563.8 295.5,560.0 310.0,568.8 323.8,573.0 337.5,573.0 351.3,553.8 365.2,557.5 378.5,564.3 393.4,555.4 406.2,546.4 420.2,561.3 434.5,533.9 449.4,531.5 462.8,522.6 474.8,472.5" fill="none" stroke="#000" stroke-width="3.6" stroke-linejoin="round" stroke-linecap="round"/>
<rect x="85.1" y="586.3" width="6" height="6" fill="#000"/>
<rect x="335.0" y="570.5" width="5" height="5" fill="#000"/>
<rect x="417.7" y="558.8" width="5" height="5" fill="#000"/>
<rect x="97.5" y="578" width="7.5" height="10.5" fill="#000"/>
<rect x="112" y="571" width="7.5" height="15.5" fill="#000"/>
<rect x="125.5" y="576" width="7.5" height="9.0" fill="#000"/>
<rect x="139.5" y="561.5" width="7.5" height="3.5" fill="#000"/>
<rect x="139.5" y="579.5" width="7.5" height="5.0" fill="#000"/>
<rect x="223" y="499.5" width="7.5" height="4.5" fill="#000"/>
<rect x="236.5" y="485" width="7.0" height="5.0" fill="#000"/>
<circle cx="474.8" cy="472.5" r="2.2" fill="#000"/>
<line x1="87.4" y1="724.6" x2="515.6" y2="724.6" stroke="#2a2a2a" stroke-width="1.8"/>
<line x1="515.6" y1="724.6" x2="515.6" y2="972.3" stroke="#2a2a2a" stroke-width="1.8"/>
<line x1="87.4" y1="724.6" x2="87.4" y2="972.3" stroke="#111" stroke-width="1.9"/>
<line x1="87.4" y1="972.3" x2="515.6" y2="972.3" stroke="#111" stroke-width="1.8"/>
<line x1="85.4" y1="746.5" x2="87.4" y2="746.5" stroke="#333" stroke-width="1"/>
<line x1="85.4" y1="769.6" x2="87.4" y2="769.6" stroke="#333" stroke-width="1"/>
<line x1="85.4" y1="790.9" x2="87.4" y2="790.9" stroke="#333" stroke-width="1"/>
<line x1="85.4" y1="815" x2="87.4" y2="815" stroke="#333" stroke-width="1"/>
<line x1="85.4" y1="836.3" x2="87.4" y2="836.3" stroke="#333" stroke-width="1"/>
<line x1="85.4" y1="860.4" x2="87.4" y2="860.4" stroke="#333" stroke-width="1"/>
<line x1="85.4" y1="881.7" x2="87.4" y2="881.7" stroke="#333" stroke-width="1"/>
<line x1="85.4" y1="903.9" x2="87.4" y2="903.9" stroke="#333" stroke-width="1"/>
<line x1="85.4" y1="926.1" x2="87.4" y2="926.1" stroke="#333" stroke-width="1"/>
<line x1="85.4" y1="948.1" x2="87.4" y2="948.1" stroke="#333" stroke-width="1"/>
<text transform="translate(0.16,747.60) scale(0.9985,1)" font-size="33.64" font-weight="bold" fill="#111" stroke="#111" stroke-width="0.3">C</text>
<text transform="translate(36.03,751.70) scale(1.1079,1)" font-size="17.67" font-weight="normal" fill="#111" stroke="#111" stroke-width="0.3">1000</text>
<text transform="translate(40.20,861.50) scale(1.1055,1)" font-size="18.09" font-weight="normal" fill="#111" stroke="#111" stroke-width="0.3">500</text>
<text transform="translate(40.42,951.70) scale(1.0390,1)" font-size="18.94" font-weight="normal" fill="#111" stroke="#111" stroke-width="0.3">100</text>
<text transform="translate(82.62,1002.10) scale(1.0207,1)" font-size="19.08" font-weight="normal" fill="#111" stroke="#111" stroke-width="0.3">0</text>
<text transform="translate(211.63,1002.30) scale(0.9930,1)" font-size="19.79" font-weight="normal" fill="#111" stroke="#111" stroke-width="0.3">10</text>
<text transform="translate(350.27,1002.40) scale(1.0305,1)" font-size="19.93" font-weight="normal" fill="#111" stroke="#111" stroke-width="0.3">20</text>
<text transform="translate(493.79,1002.20) scale(0.9688,1)" font-size="19.65" font-weight="normal" fill="#111" stroke="#111" stroke-width="0.3">30</text>
<text transform="translate(231.51,1050.00) scale(1.0244,1)" font-size="21.09" font-weight="normal" fill="#111" stroke="#111" stroke-width="0.3">Time (Days)</text>
<text transform="translate(107.97,796.20) scale(1.0975,1)" font-size="18.04" font-weight="normal" fill="#111" stroke="#111" stroke-width="0.3">MV injections</text>
<text transform="translate(21.50,961.89) rotate(-90) scale(1.0018,1)" font-size="19.72" fill="#111" stroke="#111" stroke-width="0.3">% change in tumor vol</text>
<polyline points="97.3,811.8 97.3,808.5 234.2,808.5 234.2,811.8" fill="none" stroke="#444" stroke-width="1"/>
<polygon points="94.05,811.8 100.55,811.8 97.3,817.8" fill="#000"/>
<polygon points="230.95,811.8 237.45,811.8 234.2,817.8" fill="#000"/>
<line x1="108.2" y1="935.8" x2="108.2" y2="945.4" stroke="#000" stroke-width="2.3"/>
<line x1="104.8" y1="935.8" x2="111.6" y2="935.8" stroke="#000" stroke-width="2.8"/>
<line x1="104.8" y1="945.4" x2="111.6" y2="945.4" stroke="#000" stroke-width="2.8"/>
<line x1="121.7" y1="931.0" x2="121.7" y2="941.5" stroke="#000" stroke-width="2.3"/>
<line x1="118.3" y1="931.0" x2="125.1" y2="931.0" stroke="#000" stroke-width="2.8"/>
<line x1="118.3" y1="941.5" x2="125.1" y2="941.5" stroke="#000" stroke-width="2.8"/>
<line x1="135.1" y1="921.3" x2="135.1" y2="940.6" stroke="#000" stroke-width="2.3"/>
<line x1="131.7" y1="921.3" x2="138.5" y2="921.3" stroke="#000" stroke-width="2.8"/>
<line x1="131.7" y1="940.6" x2="138.5" y2="940.6" stroke="#000" stroke-width="2.8"/>
<line x1="148.6" y1="921.3" x2="148.6" y2="934.8" stroke="#000" stroke-width="2.3"/>
<line x1="145.2" y1="921.3" x2="152.0" y2="921.3" stroke="#000" stroke-width="2.8"/>
<line x1="145.2" y1="934.8" x2="152.0" y2="934.8" stroke="#000" stroke-width="2.8"/>
<line x1="163.2" y1="881.0" x2="163.2" y2="931.0" stroke="#000" stroke-width="2.3"/>
<line x1="159.8" y1="881.0" x2="166.6" y2="881.0" stroke="#000" stroke-width="2.8"/>
<line x1="159.8" y1="921.3" x2="166.6" y2="921.3" stroke="#000" stroke-width="2.8"/>
<line x1="159.8" y1="931.0" x2="166.6" y2="931.0" stroke="#000" stroke-width="2.8"/>
<line x1="163.2" y1="946.3" x2="163.2" y2="956.0" stroke="#000" stroke-width="2.3"/>
<line x1="159.8" y1="946.3" x2="166.6" y2="946.3" stroke="#000" stroke-width="2.8"/>
<line x1="159.8" y1="956.0" x2="166.6" y2="956.0" stroke="#000" stroke-width="2.8"/>
<line x1="177.2" y1="872.0" x2="177.2" y2="913.0" stroke="#000" stroke-width="2.3"/>
<line x1="173.8" y1="872.0" x2="180.6" y2="872.0" stroke="#000" stroke-width="2.8"/>
<line x1="173.8" y1="913.0" x2="180.6" y2="913.0" stroke="#000" stroke-width="2.8"/>
<line x1="177.3" y1="941.5" x2="177.3" y2="956.0" stroke="#000" stroke-width="2.3"/>
<line x1="173.9" y1="941.5" x2="180.7" y2="941.5" stroke="#000" stroke-width="2.8"/>
<line x1="173.9" y1="956.0" x2="180.7" y2="956.0" stroke="#000" stroke-width="2.8"/>
<line x1="190.2" y1="873.8" x2="190.2" y2="906.0" stroke="#000" stroke-width="2.3"/>
<line x1="186.8" y1="873.8" x2="193.6" y2="873.8" stroke="#000" stroke-width="2.8"/>
<line x1="186.8" y1="887.6" x2="193.6" y2="887.6" stroke="#000" stroke-width="2.8"/>
<line x1="186.8" y1="906.0" x2="193.6" y2="906.0" stroke="#000" stroke-width="2.8"/>
<line x1="190.2" y1="925.2" x2="190.2" y2="941.2" stroke="#000" stroke-width="2.3"/>
<line x1="186.8" y1="925.2" x2="193.6" y2="925.2" stroke="#000" stroke-width="2.8"/>
<line x1="186.8" y1="941.2" x2="193.6" y2="941.2" stroke="#000" stroke-width="2.8"/>
<line x1="204.7" y1="885.5" x2="204.7" y2="906.0" stroke="#000" stroke-width="2.3"/>
<line x1="201.3" y1="885.5" x2="208.1" y2="885.5" stroke="#000" stroke-width="2.8"/>
<line x1="201.3" y1="906.0" x2="208.1" y2="906.0" stroke="#000" stroke-width="2.8"/>
<line x1="204.6" y1="919.4" x2="204.6" y2="939.2" stroke="#000" stroke-width="2.3"/>
<line x1="201.2" y1="919.4" x2="208.0" y2="919.4" stroke="#000" stroke-width="2.8"/>
<line x1="201.2" y1="939.2" x2="208.0" y2="939.2" stroke="#000" stroke-width="2.8"/>
<line x1="218.0" y1="865.6" x2="218.0" y2="887.7" stroke="#000" stroke-width="2.3"/>
<line x1="214.6" y1="865.6" x2="221.4" y2="865.6" stroke="#000" stroke-width="2.8"/>
<line x1="214.6" y1="887.7" x2="221.4" y2="887.7" stroke="#000" stroke-width="2.8"/>
<line x1="218.1" y1="917.5" x2="218.1" y2="935.4" stroke="#000" stroke-width="2.3"/>
<line x1="214.7" y1="917.5" x2="221.5" y2="917.5" stroke="#000" stroke-width="2.8"/>
<line x1="214.7" y1="935.4" x2="221.5" y2="935.4" stroke="#000" stroke-width="2.8"/>
<line x1="232.5" y1="839.6" x2="232.5" y2="891.5" stroke="#000" stroke-width="2.3"/>
<line x1="229.1" y1="839.6" x2="235.9" y2="839.6" stroke="#000" stroke-width="2.8"/>
<line x1="229.1" y1="877.1" x2="235.9" y2="877.1" stroke="#000" stroke-width="2.8"/>
<line x1="229.1" y1="891.5" x2="235.9" y2="891.5" stroke="#000" stroke-width="2.8"/>
<line x1="232.5" y1="915.6" x2="232.5" y2="931.9" stroke="#000" stroke-width="2.3"/>
<line x1="229.1" y1="915.6" x2="235.9" y2="915.6" stroke="#000" stroke-width="2.8"/>
<line x1="229.1" y1="931.9" x2="235.9" y2="931.9" stroke="#000" stroke-width="2.8"/>
<line x1="246.9" y1="843.5" x2="246.9" y2="870.4" stroke="#000" stroke-width="2.3"/>
<line x1="243.5" y1="843.5" x2="250.3" y2="843.5" stroke="#000" stroke-width="2.8"/>
<line x1="243.5" y1="870.4" x2="250.3" y2="870.4" stroke="#000" stroke-width="2.8"/>
<line x1="246.9" y1="895.4" x2="246.9" y2="931.9" stroke="#000" stroke-width="2.3"/>
<line x1="243.5" y1="895.4" x2="250.3" y2="895.4" stroke="#000" stroke-width="2.8"/>
<line x1="243.5" y1="931.9" x2="250.3" y2="931.9" stroke="#000" stroke-width="2.8"/>
<line x1="260.6" y1="827.0" x2="260.6" y2="854.7" stroke="#000" stroke-width="2.3"/>
<line x1="257.2" y1="827.0" x2="264.0" y2="827.0" stroke="#000" stroke-width="2.8"/>
<line x1="257.2" y1="854.7" x2="264.0" y2="854.7" stroke="#000" stroke-width="2.8"/>
<line x1="260.8" y1="945.6" x2="260.8" y2="960.4" stroke="#000" stroke-width="2.3"/>
<line x1="257.4" y1="945.6" x2="264.2" y2="945.6" stroke="#000" stroke-width="2.8"/>
<line x1="257.4" y1="960.4" x2="264.2" y2="960.4" stroke="#000" stroke-width="2.8"/>
<line x1="274.4" y1="779.6" x2="274.4" y2="858.2" stroke="#000" stroke-width="2.3"/>
<line x1="271.0" y1="779.6" x2="277.8" y2="779.6" stroke="#000" stroke-width="2.8"/>
<line x1="271.0" y1="846.6" x2="277.8" y2="846.6" stroke="#000" stroke-width="2.8"/>
<line x1="271.0" y1="858.2" x2="277.8" y2="858.2" stroke="#000" stroke-width="2.8"/>
<line x1="274.2" y1="924.9" x2="274.2" y2="953.7" stroke="#000" stroke-width="2.3"/>
<line x1="270.8" y1="924.9" x2="277.6" y2="924.9" stroke="#000" stroke-width="2.8"/>
<line x1="270.8" y1="953.7" x2="277.6" y2="953.7" stroke="#000" stroke-width="2.8"/>
<line x1="288.5" y1="794.7" x2="288.5" y2="830.5" stroke="#000" stroke-width="2.3"/>
<line x1="285.1" y1="794.7" x2="291.9" y2="794.7" stroke="#000" stroke-width="2.8"/>
<line x1="285.1" y1="798.1" x2="291.9" y2="798.1" stroke="#000" stroke-width="2.8"/>
<line x1="285.1" y1="827.0" x2="291.9" y2="827.0" stroke="#000" stroke-width="2.8"/>
<line x1="285.1" y1="830.5" x2="291.9" y2="830.5" stroke="#000" stroke-width="2.8"/>
<line x1="287.7" y1="916.0" x2="287.7" y2="941.0" stroke="#000" stroke-width="2.3"/>
<line x1="284.3" y1="916.0" x2="291.1" y2="916.0" stroke="#000" stroke-width="2.8"/>
<line x1="284.3" y1="941.0" x2="291.1" y2="941.0" stroke="#000" stroke-width="2.8"/>
<line x1="302.8" y1="779.6" x2="302.8" y2="838.5" stroke="#000" stroke-width="2.3"/>
<line x1="299.4" y1="779.6" x2="306.2" y2="779.6" stroke="#000" stroke-width="2.8"/>
<line x1="299.4" y1="805.0" x2="306.2" y2="805.0" stroke="#000" stroke-width="2.8"/>
<line x1="299.4" y1="838.5" x2="306.2" y2="838.5" stroke="#000" stroke-width="2.8"/>
<line x1="302.5" y1="916.0" x2="302.5" y2="941.0" stroke="#000" stroke-width="2.3"/>
<line x1="299.1" y1="916.0" x2="305.9" y2="916.0" stroke="#000" stroke-width="2.8"/>
<line x1="299.1" y1="941.0" x2="305.9" y2="941.0" stroke="#000" stroke-width="2.8"/>
<line x1="315.4" y1="767.0" x2="315.4" y2="827.0" stroke="#000" stroke-width="2.3"/>
<line x1="312.0" y1="767.0" x2="318.8" y2="767.0" stroke="#000" stroke-width="2.8"/>
<line x1="312.0" y1="773.9" x2="318.8" y2="773.9" stroke="#000" stroke-width="2.8"/>
<line x1="312.0" y1="827.0" x2="318.8" y2="827.0" stroke="#000" stroke-width="2.8"/>
<line x1="315.2" y1="902.5" x2="315.2" y2="937.5" stroke="#000" stroke-width="2.3"/>
<line x1="311.8" y1="902.5" x2="318.6" y2="902.5" stroke="#000" stroke-width="2.8"/>
<line x1="311.8" y1="937.5" x2="318.6" y2="937.5" stroke="#000" stroke-width="2.8"/>
<line x1="330.7" y1="735.1" x2="330.7" y2="836.2" stroke="#000" stroke-width="2.3"/>
<line x1="327.3" y1="735.1" x2="334.1" y2="735.1" stroke="#000" stroke-width="2.8"/>
<line x1="327.3" y1="816.6" x2="334.1" y2="816.6" stroke="#000" stroke-width="2.8"/>
<line x1="327.3" y1="836.2" x2="334.1" y2="836.2" stroke="#000" stroke-width="2.8"/>
<line x1="329.4" y1="875.6" x2="329.4" y2="928.6" stroke="#000" stroke-width="2.3"/>
<line x1="326.0" y1="875.6" x2="332.8" y2="875.6" stroke="#000" stroke-width="2.8"/>
<line x1="326.0" y1="928.6" x2="332.8" y2="928.6" stroke="#000" stroke-width="2.8"/>
<line x1="343.2" y1="739.1" x2="343.2" y2="776.0" stroke="#000" stroke-width="2.3"/>
<line x1="339.8" y1="739.1" x2="346.6" y2="739.1" stroke="#000" stroke-width="2.8"/>
<line x1="342.9" y1="873.7" x2="342.9" y2="926.7" stroke="#000" stroke-width="2.3"/>
<line x1="339.5" y1="873.7" x2="346.3" y2="873.7" stroke="#000" stroke-width="2.8"/>
<line x1="339.5" y1="926.7" x2="346.3" y2="926.7" stroke="#000" stroke-width="2.8"/>
<line x1="385.5" y1="868.5" x2="385.5" y2="926.7" stroke="#000" stroke-width="2.3"/>
<line x1="382.1" y1="868.5" x2="388.9" y2="868.5" stroke="#000" stroke-width="2.8"/>
<line x1="382.1" y1="926.7" x2="388.9" y2="926.7" stroke="#000" stroke-width="2.8"/>
<line x1="399.8" y1="859.4" x2="399.8" y2="922.7" stroke="#000" stroke-width="2.3"/>
<line x1="396.4" y1="859.4" x2="403.2" y2="859.4" stroke="#000" stroke-width="2.8"/>
<line x1="396.4" y1="922.7" x2="403.2" y2="922.7" stroke="#000" stroke-width="2.8"/>
<line x1="414.0" y1="858.1" x2="414.0" y2="944.8" stroke="#000" stroke-width="2.3"/>
<line x1="410.6" y1="858.1" x2="417.4" y2="858.1" stroke="#000" stroke-width="2.8"/>
<line x1="410.6" y1="944.8" x2="417.4" y2="944.8" stroke="#000" stroke-width="2.8"/>
<line x1="426.2" y1="917.3" x2="426.2" y2="967.1" stroke="#000" stroke-width="2.3"/>
<line x1="422.8" y1="917.3" x2="429.6" y2="917.3" stroke="#000" stroke-width="2.8"/>
<line x1="422.8" y1="967.1" x2="429.6" y2="967.1" stroke="#000" stroke-width="2.8"/>
<line x1="440.4" y1="924.9" x2="440.4" y2="967.1" stroke="#000" stroke-width="2.3"/>
<line x1="437.0" y1="924.9" x2="443.8" y2="924.9" stroke="#000" stroke-width="2.8"/>
<line x1="437.0" y1="967.1" x2="443.8" y2="967.1" stroke="#000" stroke-width="2.8"/>
<polyline points="92.8,948.3 108.2,938.7 121.7,932.9 135.1,929.0 148.6,926.2 163.4,905.0 177.2,892.0 190.2,891.0 204.9,894.0 218.0,876.5 232.5,864.6 246.9,851.2 260.8,831.0 274.6,818.0 288.5,812.0 303.0,820.0 315.5,797.5 331.0,783.0 368.5,760.5" fill="none" stroke="#000" stroke-width="3.6" stroke-linejoin="round" stroke-linecap="round"/>
<polyline points="92.8,948.3 108.2,941.5 121.7,935.8 135.1,931.0 148.6,928.1 163.4,913.0 177.2,902.3 190.2,898.8 204.9,894.0 218.0,878.0 232.5,868.5 246.9,860.8 260.8,845.0 274.6,831.6 288.5,815.5 303.0,797.0 315.5,799.0 330.0,797.7 342.0,756.6" fill="none" stroke="#000" stroke-width="3.6" stroke-linejoin="round" stroke-linecap="round"/>
<polyline points="92.8,948.3 108.2,942.5 121.7,937.5 135.1,932.5 148.6,929.5 163.0,948.3 177.3,946.3 190.2,933.8 204.6,931.0 218.1,927.1 232.5,923.3 246.5,914.6 260.8,952.3 274.2,937.5 287.7,928.6 302.5,928.6 315.2,919.5 329.4,900.6 342.9,899.0 385.8,897.1 399.5,891.7 414.0,902.5 425.8,940.2 440.4,945.6 482.7,936.2" fill="none" stroke="#000" stroke-width="3.6" stroke-linejoin="round" stroke-linecap="round"/>
<rect x="89.8" y="945.3" width="6" height="6" fill="#000"/>
<rect x="367.1" y="756.3" width="5.8" height="5.8" fill="#000"/><rect x="369.3" y="758.5" width="1.6" height="1.6" fill="#888"/>
<circle cx="482.7" cy="936.2" r="2.2" fill="#000"/>
<circle cx="342" cy="756.6" r="2" fill="#000"/>
<line x1="83.9" y1="1081.4" x2="506.2" y2="1081.4" stroke="#2a2a2a" stroke-width="1.8"/>
<line x1="506.2" y1="1081.4" x2="506.2" y2="1353.5" stroke="#2a2a2a" stroke-width="1.8"/>
<line x1="83.9" y1="1081.4" x2="83.9" y2="1353.5" stroke="#111" stroke-width="1.9"/>
<line x1="83.9" y1="1353.5" x2="506.2" y2="1353.5" stroke="#111" stroke-width="1.8"/>
<line x1="81.9" y1="1099.9" x2="83.9" y2="1099.9" stroke="#333" stroke-width="1"/>
<line x1="81.9" y1="1117.7" x2="83.9" y2="1117.7" stroke="#333" stroke-width="1"/>
<line x1="81.9" y1="1135.6" x2="83.9" y2="1135.6" stroke="#333" stroke-width="1"/>
<line x1="81.9" y1="1154.5" x2="83.9" y2="1154.5" stroke="#333" stroke-width="1"/>
<line x1="81.9" y1="1172.4" x2="83.9" y2="1172.4" stroke="#333" stroke-width="1"/>
<line x1="81.9" y1="1190.3" x2="83.9" y2="1190.3" stroke="#333" stroke-width="1"/>
<line x1="81.9" y1="1209.2" x2="83.9" y2="1209.2" stroke="#333" stroke-width="1"/>
<line x1="81.9" y1="1227.1" x2="83.9" y2="1227.1" stroke="#333" stroke-width="1"/>
<line x1="81.9" y1="1245" x2="83.9" y2="1245" stroke="#333" stroke-width="1"/>
<line x1="81.9" y1="1262.9" x2="83.9" y2="1262.9" stroke="#333" stroke-width="1"/>
<line x1="81.9" y1="1281.8" x2="83.9" y2="1281.8" stroke="#333" stroke-width="1"/>
<line x1="81.9" y1="1299.7" x2="83.9" y2="1299.7" stroke="#333" stroke-width="1"/>
<line x1="81.9" y1="1317.5" x2="83.9" y2="1317.5" stroke="#333" stroke-width="1"/>
<line x1="81.9" y1="1335.4" x2="83.9" y2="1335.4" stroke="#333" stroke-width="1"/>
<text transform="translate(-0.51,1104.20) scale(1.0384,1)" font-size="33.02" font-weight="bold" fill="#111" stroke="#111" stroke-width="0.3">D</text>
<text transform="translate(43.86,1179.90) scale(1.1683,1)" font-size="17.81" font-weight="normal" fill="#111" stroke="#111" stroke-width="0.3">2.0</text>
<text transform="translate(44.10,1265.70) scale(1.0234,1)" font-size="19.51" font-weight="normal" fill="#111" stroke="#111" stroke-width="0.3">1.0</text>
<text transform="translate(82.20,1383.80) scale(0.9909,1)" font-size="22.61" font-weight="normal" fill="#111" stroke="#111" stroke-width="0.3">0</text>
<text transform="translate(255.65,1377.90) scale(0.9957,1)" font-size="22.05" font-weight="normal" fill="#111" stroke="#111" stroke-width="0.3">10</text>
<text transform="translate(430.36,1376.90) scale(1.0269,1)" font-size="22.19" font-weight="normal" fill="#111" stroke="#111" stroke-width="0.3">20</text>
<text transform="translate(229.31,1425.80) scale(0.9629,1)" font-size="22.40" font-weight="normal" fill="#111" stroke="#111" stroke-width="0.3">Time (Days)</text>
<text transform="translate(132.18,1180.40) scale(1.0325,1)" font-size="19.05" font-weight="normal" fill="#111" stroke="#111" stroke-width="0.3">MV injections</text>
<text transform="translate(20.00,1289.24) rotate(-90) scale(0.9286,1)" font-size="21.24" fill="#111" stroke="#111" stroke-width="0.3">Tumor size (cm</text>
<text transform="translate(15.30,1154.09) rotate(-90) scale(0.9459,1)" font-size="19.36" fill="#111" stroke="#111" stroke-width="0.3">3</text>
<text transform="translate(23.90,1142.52) rotate(-90) scale(0.8439,1)" font-size="19.41" fill="#111" stroke="#111" stroke-width="0.3">)</text>
<polyline points="92.2,1197.7 92.2,1191.3 274.6,1191.3 274.6,1197.7" fill="none" stroke="#444" stroke-width="1"/>
<polygon points="89.7,1197.7 94.7,1197.7 92.2,1202.5" fill="#000"/>
<polygon points="272.1,1197.7 277.1,1197.7 274.6,1202.5" fill="#000"/>
<line x1="110.4" y1="1274.5" x2="110.4" y2="1293.6" stroke="#000" stroke-width="2.3"/>
<line x1="107.0" y1="1274.5" x2="113.8" y2="1274.5" stroke="#000" stroke-width="2.8"/>
<line x1="107.0" y1="1293.6" x2="113.8" y2="1293.6" stroke="#000" stroke-width="2.8"/>
<line x1="129.5" y1="1259.7" x2="129.5" y2="1286.2" stroke="#000" stroke-width="2.3"/>
<line x1="126.1" y1="1259.7" x2="132.9" y2="1259.7" stroke="#000" stroke-width="2.8"/>
<line x1="126.1" y1="1286.2" x2="132.9" y2="1286.2" stroke="#000" stroke-width="2.8"/>
<line x1="147.5" y1="1261.8" x2="147.5" y2="1288.3" stroke="#000" stroke-width="2.3"/>
<line x1="144.1" y1="1261.8" x2="150.9" y2="1261.8" stroke="#000" stroke-width="2.8"/>
<line x1="144.1" y1="1288.3" x2="150.9" y2="1288.3" stroke="#000" stroke-width="2.8"/>
<line x1="167.1" y1="1249.1" x2="167.1" y2="1288.3" stroke="#000" stroke-width="2.3"/>
<line x1="163.7" y1="1249.1" x2="170.5" y2="1249.1" stroke="#000" stroke-width="2.8"/>
<line x1="163.7" y1="1288.3" x2="170.5" y2="1288.3" stroke="#000" stroke-width="2.8"/>
<line x1="184.3" y1="1255.2" x2="184.3" y2="1295.0" stroke="#000" stroke-width="2.3"/>
<line x1="180.9" y1="1255.2" x2="187.7" y2="1255.2" stroke="#000" stroke-width="2.8"/>
<line x1="180.9" y1="1295.0" x2="187.7" y2="1295.0" stroke="#000" stroke-width="2.8"/>
<line x1="204.2" y1="1257.3" x2="204.2" y2="1297.7" stroke="#000" stroke-width="2.3"/>
<line x1="200.8" y1="1257.3" x2="207.6" y2="1257.3" stroke="#000" stroke-width="2.8"/>
<line x1="200.8" y1="1297.7" x2="207.6" y2="1297.7" stroke="#000" stroke-width="2.8"/>
<line x1="221.5" y1="1242.3" x2="221.5" y2="1279.2" stroke="#000" stroke-width="2.3"/>
<line x1="218.1" y1="1242.3" x2="224.9" y2="1242.3" stroke="#000" stroke-width="2.8"/>
<line x1="218.1" y1="1279.2" x2="224.9" y2="1279.2" stroke="#000" stroke-width="2.8"/>
<line x1="239.5" y1="1244.6" x2="239.5" y2="1273.5" stroke="#000" stroke-width="2.3"/>
<line x1="236.1" y1="1244.6" x2="242.9" y2="1244.6" stroke="#000" stroke-width="2.8"/>
<line x1="236.1" y1="1273.5" x2="242.9" y2="1273.5" stroke="#000" stroke-width="2.8"/>
<line x1="258.5" y1="1209.5" x2="258.5" y2="1251.5" stroke="#000" stroke-width="2.3"/>
<line x1="255.1" y1="1209.5" x2="261.9" y2="1209.5" stroke="#000" stroke-width="2.8"/>
<line x1="255.1" y1="1251.5" x2="261.9" y2="1251.5" stroke="#000" stroke-width="2.8"/>
<line x1="275.8" y1="1222.7" x2="275.8" y2="1268.8" stroke="#000" stroke-width="2.3"/>
<line x1="272.4" y1="1222.7" x2="279.2" y2="1222.7" stroke="#000" stroke-width="2.8"/>
<line x1="272.4" y1="1268.8" x2="279.2" y2="1268.8" stroke="#000" stroke-width="2.8"/>
<line x1="295.1" y1="1209.5" x2="295.1" y2="1262.2" stroke="#000" stroke-width="2.3"/>
<line x1="291.7" y1="1209.5" x2="298.5" y2="1209.5" stroke="#000" stroke-width="2.8"/>
<line x1="291.7" y1="1262.2" x2="298.5" y2="1262.2" stroke="#000" stroke-width="2.8"/>
<line x1="313.2" y1="1231.2" x2="313.2" y2="1290.8" stroke="#000" stroke-width="2.3"/>
<line x1="309.8" y1="1231.2" x2="316.6" y2="1231.2" stroke="#000" stroke-width="2.8"/>
<line x1="309.8" y1="1290.8" x2="316.6" y2="1290.8" stroke="#000" stroke-width="2.8"/>
<line x1="331.2" y1="1211.8" x2="331.2" y2="1286.2" stroke="#000" stroke-width="2.3"/>
<line x1="327.8" y1="1211.8" x2="334.6" y2="1211.8" stroke="#000" stroke-width="2.8"/>
<line x1="327.8" y1="1286.2" x2="334.6" y2="1286.2" stroke="#000" stroke-width="2.8"/>
<line x1="350.3" y1="1192.0" x2="350.3" y2="1256.2" stroke="#000" stroke-width="2.3"/>
<line x1="346.9" y1="1192.0" x2="353.7" y2="1192.0" stroke="#000" stroke-width="2.8"/>
<line x1="346.9" y1="1256.2" x2="353.7" y2="1256.2" stroke="#000" stroke-width="2.8"/>
<line x1="368.1" y1="1156.9" x2="368.1" y2="1233.5" stroke="#000" stroke-width="2.3"/>
<line x1="364.7" y1="1156.9" x2="371.5" y2="1156.9" stroke="#000" stroke-width="2.8"/>
<line x1="364.7" y1="1233.5" x2="371.5" y2="1233.5" stroke="#000" stroke-width="2.8"/>
<line x1="387.7" y1="1174.2" x2="387.7" y2="1244.6" stroke="#000" stroke-width="2.3"/>
<line x1="384.3" y1="1174.2" x2="391.1" y2="1174.2" stroke="#000" stroke-width="2.8"/>
<line x1="384.3" y1="1244.6" x2="391.1" y2="1244.6" stroke="#000" stroke-width="2.8"/>
<line x1="404.5" y1="1154.8" x2="404.5" y2="1233.3" stroke="#000" stroke-width="2.3"/>
<line x1="401.1" y1="1154.8" x2="407.9" y2="1154.8" stroke="#000" stroke-width="2.8"/>
<line x1="401.1" y1="1233.3" x2="407.9" y2="1233.3" stroke="#000" stroke-width="2.8"/>
<line x1="422.3" y1="1181.2" x2="422.3" y2="1278.5" stroke="#000" stroke-width="2.3"/>
<line x1="418.9" y1="1181.2" x2="425.7" y2="1181.2" stroke="#000" stroke-width="2.8"/>
<line x1="478.8" y1="1189.2" x2="478.8" y2="1271.2" stroke="#000" stroke-width="2.3"/>
<line x1="475.4" y1="1189.2" x2="482.2" y2="1189.2" stroke="#000" stroke-width="2.8"/>
<line x1="475.4" y1="1271.2" x2="482.2" y2="1271.2" stroke="#000" stroke-width="2.8"/>
<line x1="496.2" y1="1161.5" x2="496.2" y2="1301.2" stroke="#000" stroke-width="2.3"/>
<line x1="492.8" y1="1161.5" x2="499.6" y2="1161.5" stroke="#000" stroke-width="2.8"/>
<line x1="492.8" y1="1301.2" x2="499.6" y2="1301.2" stroke="#000" stroke-width="2.8"/>
<line x1="112.6" y1="1319.6" x2="112.6" y2="1325.3" stroke="#000" stroke-width="2.3"/>
<line x1="109.2" y1="1319.6" x2="116.0" y2="1319.6" stroke="#000" stroke-width="2.8"/>
<line x1="109.2" y1="1325.3" x2="116.0" y2="1325.3" stroke="#000" stroke-width="2.8"/>
<line x1="148.5" y1="1311.1" x2="148.5" y2="1316.8" stroke="#000" stroke-width="2.3"/>
<line x1="145.1" y1="1311.1" x2="151.9" y2="1311.1" stroke="#000" stroke-width="2.8"/>
<line x1="145.1" y1="1316.8" x2="151.9" y2="1316.8" stroke="#000" stroke-width="2.8"/>
<line x1="167.1" y1="1302.0" x2="167.1" y2="1314.7" stroke="#000" stroke-width="2.3"/>
<line x1="163.7" y1="1302.0" x2="170.5" y2="1302.0" stroke="#000" stroke-width="2.8"/>
<line x1="163.7" y1="1314.7" x2="170.5" y2="1314.7" stroke="#000" stroke-width="2.8"/>
<line x1="184.3" y1="1316.7" x2="184.3" y2="1333.6" stroke="#000" stroke-width="2.3"/>
<line x1="180.9" y1="1316.7" x2="187.7" y2="1316.7" stroke="#000" stroke-width="2.8"/>
<line x1="180.9" y1="1333.6" x2="187.7" y2="1333.6" stroke="#000" stroke-width="2.8"/>
<line x1="204.2" y1="1308.1" x2="204.2" y2="1332.3" stroke="#000" stroke-width="2.3"/>
<line x1="200.8" y1="1308.1" x2="207.6" y2="1308.1" stroke="#000" stroke-width="2.8"/>
<line x1="200.8" y1="1332.3" x2="207.6" y2="1332.3" stroke="#000" stroke-width="2.8"/>
<line x1="221.5" y1="1301.2" x2="221.5" y2="1312.7" stroke="#000" stroke-width="2.3"/>
<line x1="218.1" y1="1301.2" x2="224.9" y2="1301.2" stroke="#000" stroke-width="2.8"/>
<line x1="218.1" y1="1312.7" x2="224.9" y2="1312.7" stroke="#000" stroke-width="2.8"/>
<line x1="239.5" y1="1297.7" x2="239.5" y2="1310.4" stroke="#000" stroke-width="2.3"/>
<line x1="236.1" y1="1297.7" x2="242.9" y2="1297.7" stroke="#000" stroke-width="2.8"/>
<line x1="236.1" y1="1310.4" x2="242.9" y2="1310.4" stroke="#000" stroke-width="2.8"/>
<line x1="258.5" y1="1288.0" x2="258.5" y2="1310.4" stroke="#000" stroke-width="2.3"/>
<line x1="255.1" y1="1288.0" x2="261.9" y2="1288.0" stroke="#000" stroke-width="2.8"/>
<line x1="255.1" y1="1310.4" x2="261.9" y2="1310.4" stroke="#000" stroke-width="2.8"/>
<line x1="275.8" y1="1293.1" x2="275.8" y2="1313.8" stroke="#000" stroke-width="2.3"/>
<line x1="272.4" y1="1293.1" x2="279.2" y2="1293.1" stroke="#000" stroke-width="2.8"/>
<line x1="272.4" y1="1313.8" x2="279.2" y2="1313.8" stroke="#000" stroke-width="2.8"/>
<line x1="295.1" y1="1288.2" x2="295.1" y2="1305.8" stroke="#000" stroke-width="2.3"/>
<line x1="291.7" y1="1288.2" x2="298.5" y2="1288.2" stroke="#000" stroke-width="2.8"/>
<line x1="291.7" y1="1305.8" x2="298.5" y2="1305.8" stroke="#000" stroke-width="2.8"/>
<line x1="313.2" y1="1315.0" x2="313.2" y2="1335.8" stroke="#000" stroke-width="2.3"/>
<line x1="309.8" y1="1315.0" x2="316.6" y2="1315.0" stroke="#000" stroke-width="2.8"/>
<line x1="309.8" y1="1335.8" x2="316.6" y2="1335.8" stroke="#000" stroke-width="2.8"/>
<line x1="331.2" y1="1315.0" x2="331.2" y2="1328.9" stroke="#000" stroke-width="2.3"/>
<line x1="327.8" y1="1315.0" x2="334.6" y2="1315.0" stroke="#000" stroke-width="2.8"/>
<line x1="327.8" y1="1328.9" x2="334.6" y2="1328.9" stroke="#000" stroke-width="2.8"/>
<line x1="350.3" y1="1299.5" x2="350.3" y2="1313.8" stroke="#000" stroke-width="2.3"/>
<line x1="346.9" y1="1299.5" x2="353.7" y2="1299.5" stroke="#000" stroke-width="2.8"/>
<line x1="346.9" y1="1313.8" x2="353.7" y2="1313.8" stroke="#000" stroke-width="2.8"/>
<line x1="368.1" y1="1299.5" x2="368.1" y2="1315.0" stroke="#000" stroke-width="2.3"/>
<line x1="364.7" y1="1299.5" x2="371.5" y2="1299.5" stroke="#000" stroke-width="2.8"/>
<line x1="364.7" y1="1315.0" x2="371.5" y2="1315.0" stroke="#000" stroke-width="2.8"/>
<line x1="387.7" y1="1281.5" x2="387.7" y2="1308.1" stroke="#000" stroke-width="2.3"/>
<line x1="384.3" y1="1281.5" x2="391.1" y2="1281.5" stroke="#000" stroke-width="2.8"/>
<line x1="384.3" y1="1308.1" x2="391.1" y2="1308.1" stroke="#000" stroke-width="2.8"/>
<line x1="404.5" y1="1276.9" x2="404.5" y2="1299.5" stroke="#000" stroke-width="2.3"/>
<line x1="401.1" y1="1276.9" x2="407.9" y2="1276.9" stroke="#000" stroke-width="2.8"/>
<line x1="401.1" y1="1299.5" x2="407.9" y2="1299.5" stroke="#000" stroke-width="2.8"/>
<line x1="422.3" y1="1278.1" x2="422.3" y2="1298.8" stroke="#000" stroke-width="2.3"/>
<line x1="418.9" y1="1278.1" x2="425.7" y2="1278.1" stroke="#000" stroke-width="2.8"/>
<line x1="418.9" y1="1298.8" x2="425.7" y2="1298.8" stroke="#000" stroke-width="2.8"/>
<line x1="441.9" y1="1275.1" x2="441.9" y2="1338.1" stroke="#000" stroke-width="2.3"/>
<line x1="438.5" y1="1275.1" x2="445.3" y2="1275.1" stroke="#000" stroke-width="2.8"/>
<line x1="438.5" y1="1338.1" x2="445.3" y2="1338.1" stroke="#000" stroke-width="2.8"/>
<line x1="459.2" y1="1281.5" x2="459.2" y2="1334.2" stroke="#000" stroke-width="2.3"/>
<line x1="455.8" y1="1281.5" x2="462.6" y2="1281.5" stroke="#000" stroke-width="2.8"/>
<line x1="455.8" y1="1334.2" x2="462.6" y2="1334.2" stroke="#000" stroke-width="2.8"/>
<line x1="478.8" y1="1279.2" x2="478.8" y2="1305.8" stroke="#000" stroke-width="2.3"/>
<line x1="475.4" y1="1279.2" x2="482.2" y2="1279.2" stroke="#000" stroke-width="2.8"/>
<line x1="475.4" y1="1305.8" x2="482.2" y2="1305.8" stroke="#000" stroke-width="2.8"/>
<polyline points="92.5,1298.5 110.4,1284.0 129.5,1272.4 147.5,1275.6 167.1,1268.2 184.3,1275.0 204.2,1276.9 221.5,1261.9 239.5,1259.6 258.5,1228.5 275.8,1243.5 295.1,1235.4 313.2,1260.8 331.2,1248.1 350.3,1223.4 368.1,1196.6 387.7,1208.8 404.5,1194.0 422.3,1228.3" fill="none" stroke="#000" stroke-width="3.6" stroke-linejoin="round" stroke-linecap="round"/>
<polyline points="478.8,1228.3 496.2,1212.3" fill="none" stroke="#000" stroke-width="3.6" stroke-linejoin="round" stroke-linecap="round"/>
<polyline points="92.5,1329.5 112.6,1323.2 129.5,1320.0 148.5,1313.7 167.1,1307.3 184.3,1324.8 204.2,1318.5 221.5,1309.2 239.5,1303.5 258.5,1301.2 275.8,1303.5 295.1,1297.5 313.2,1324.2 331.2,1321.9 350.3,1305.8 368.1,1307.4 387.7,1294.2 404.5,1288.0 422.3,1288.0 441.9,1307.4" fill="none" stroke="#000" stroke-width="3.6" stroke-linejoin="round" stroke-linecap="round"/>
<polyline points="459.2,1307.4 478.8,1292.0 496.2,1282.7" fill="none" stroke="#000" stroke-width="3.6" stroke-linejoin="round" stroke-linecap="round"/>
<polyline points="422.3,1228.3 478.8,1228.3" fill="none" stroke="#000" stroke-width="2.0" stroke-linejoin="round" stroke-linecap="round"/>
<polyline points="441.9,1307.4 459.2,1307.4" fill="none" stroke="#000" stroke-width="2.2" stroke-linejoin="round" stroke-linecap="round"/>
<rect x="89.2" y="1295.2" width="6.5" height="6.5" fill="#000"/>
<rect x="89.2" y="1326.2" width="6.5" height="6.5" fill="#000"/>
<rect x="110.1" y="1320.5" width="5" height="5" fill="#000"/>
<rect x="127.0" y="1317.5" width="5" height="5" fill="#000"/>
<rect x="146.0" y="1311.2" width="5" height="5" fill="#000"/>
<rect x="419.3" y="1275.3" width="6" height="6" fill="#000"/>
<rect x="493.7" y="1260.5" width="5" height="5" fill="#000"/>
</svg></body></html>
